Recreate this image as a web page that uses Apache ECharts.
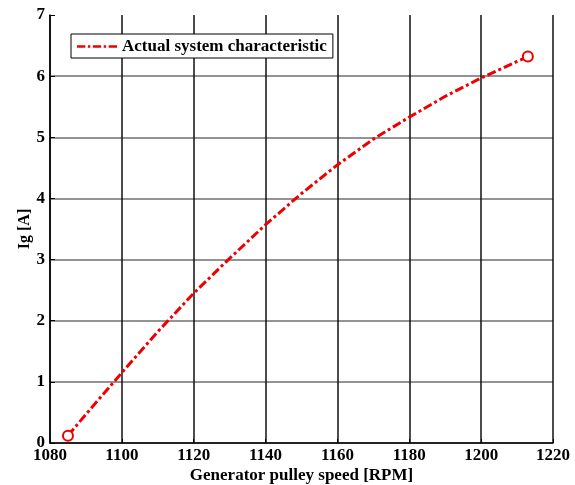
<!DOCTYPE html>
<html>
<head>
<meta charset="utf-8">
<script src="https://cdn.jsdelivr.net/npm/echarts@6/dist/echarts.min.js"></script>
<style>html,body{margin:0;padding:0;background:#fff}#c{width:575px;height:485px}</style>
</head>
<body>
<div id="c"></div>
<script>
const speedRPM = [1085, 1090, 1100, 1110, 1120, 1130, 1140, 1150, 1160, 1170, 1180, 1190, 1200, 1210, 1213];
const currentA = [0.12, 0.47, 1.15, 1.82, 2.45, 3.02, 3.57, 4.08, 4.55, 4.97, 5.33, 5.67, 5.97, 6.24, 6.32];
const seriesName = 'Actual system characteristic';
const xName = 'Generator pulley speed [RPM]';
const yName = 'Ig [A]';

const font = 'Liberation Serif';
const red = '#ee0000';
const data = speedRPM.map((x, i) => ({
  value: [x, currentA[i]],
  symbol: (i === 0 || i === speedRPM.length - 1) ? 'circle' : 'none'
}));

const chart = echarts.init(document.getElementById('c'));
chart.setOption({
  animation: false,
  backgroundColor: '#fff',
  grid: { left: 50, right: 22, top: 15, bottom: 42, outerBoundsMode: 'none', containLabel: false },
  legend: {
    left: 71, top: 34,
    padding: [4, 6, 3, 6],
    borderColor: '#000', borderWidth: 1,
    backgroundColor: '#fff',
    itemWidth: 40, itemHeight: 3, itemGap: 6,
    itemStyle: { color: red, borderWidth: 0 },
    data: [{ name: seriesName, icon: 'path://M0,0h10v3h-10z M13,0h3v3h-3z M19,0h10v3h-10z M32,0h3v3h-3z M38,0h10v3h-10z' }],
    textStyle: { fontFamily: font, fontWeight: 'bold', fontSize: 17, color: '#000' }
  },
  xAxis: {
    type: 'value', min: 1080, max: 1220, interval: 20,
    name: xName, nameLocation: 'middle', nameGap: 24, nameMoveOverlap: false,
    nameTextStyle: { fontFamily: font, fontWeight: 'bold', fontSize: 17, color: '#000' },
    axisLine: { show: true, lineStyle: { color: '#000', width: 1.5 } },
    axisTick: { show: true, inside: true, length: 4, lineStyle: { color: '#000' } },
    axisLabel: { fontFamily: font, fontWeight: 'bold', fontSize: 17, color: '#000', margin: 4,
      formatter: v => String(v) },
    splitLine: { show: true, lineStyle: { color: '#111', width: 1.5 } }
  },
  yAxis: {
    type: 'value', min: 0, max: 7, interval: 1,
    name: yName, nameLocation: 'middle', nameGap: 17, nameMoveOverlap: false,
    nameTextStyle: { fontFamily: font, fontWeight: 'bold', fontSize: 16, color: '#000' },
    axisLine: { show: true, lineStyle: { color: '#000', width: 1.5 } },
    axisTick: { show: true, inside: true, length: 5, lineStyle: { color: '#000' } },
    axisLabel: { fontFamily: font, fontWeight: 'bold', fontSize: 17, color: '#000', margin: 5 },
    splitLine: { show: true, showMaxLine: false, lineStyle: { color: '#6f6f6f', width: 1.5 } }
  },
  series: [{
    name: seriesName,
    type: 'line',
    data: data,
    symbol: 'circle',
    symbolSize: 10,
    showSymbol: true,
    itemStyle: { color: '#fff', borderColor: red, borderWidth: 2 },
    lineStyle: { color: red, width: 3, type: [9, 3, 3, 3] },
    color: red,
    z: 5
  }]
});
</script>
</body>
</html>
